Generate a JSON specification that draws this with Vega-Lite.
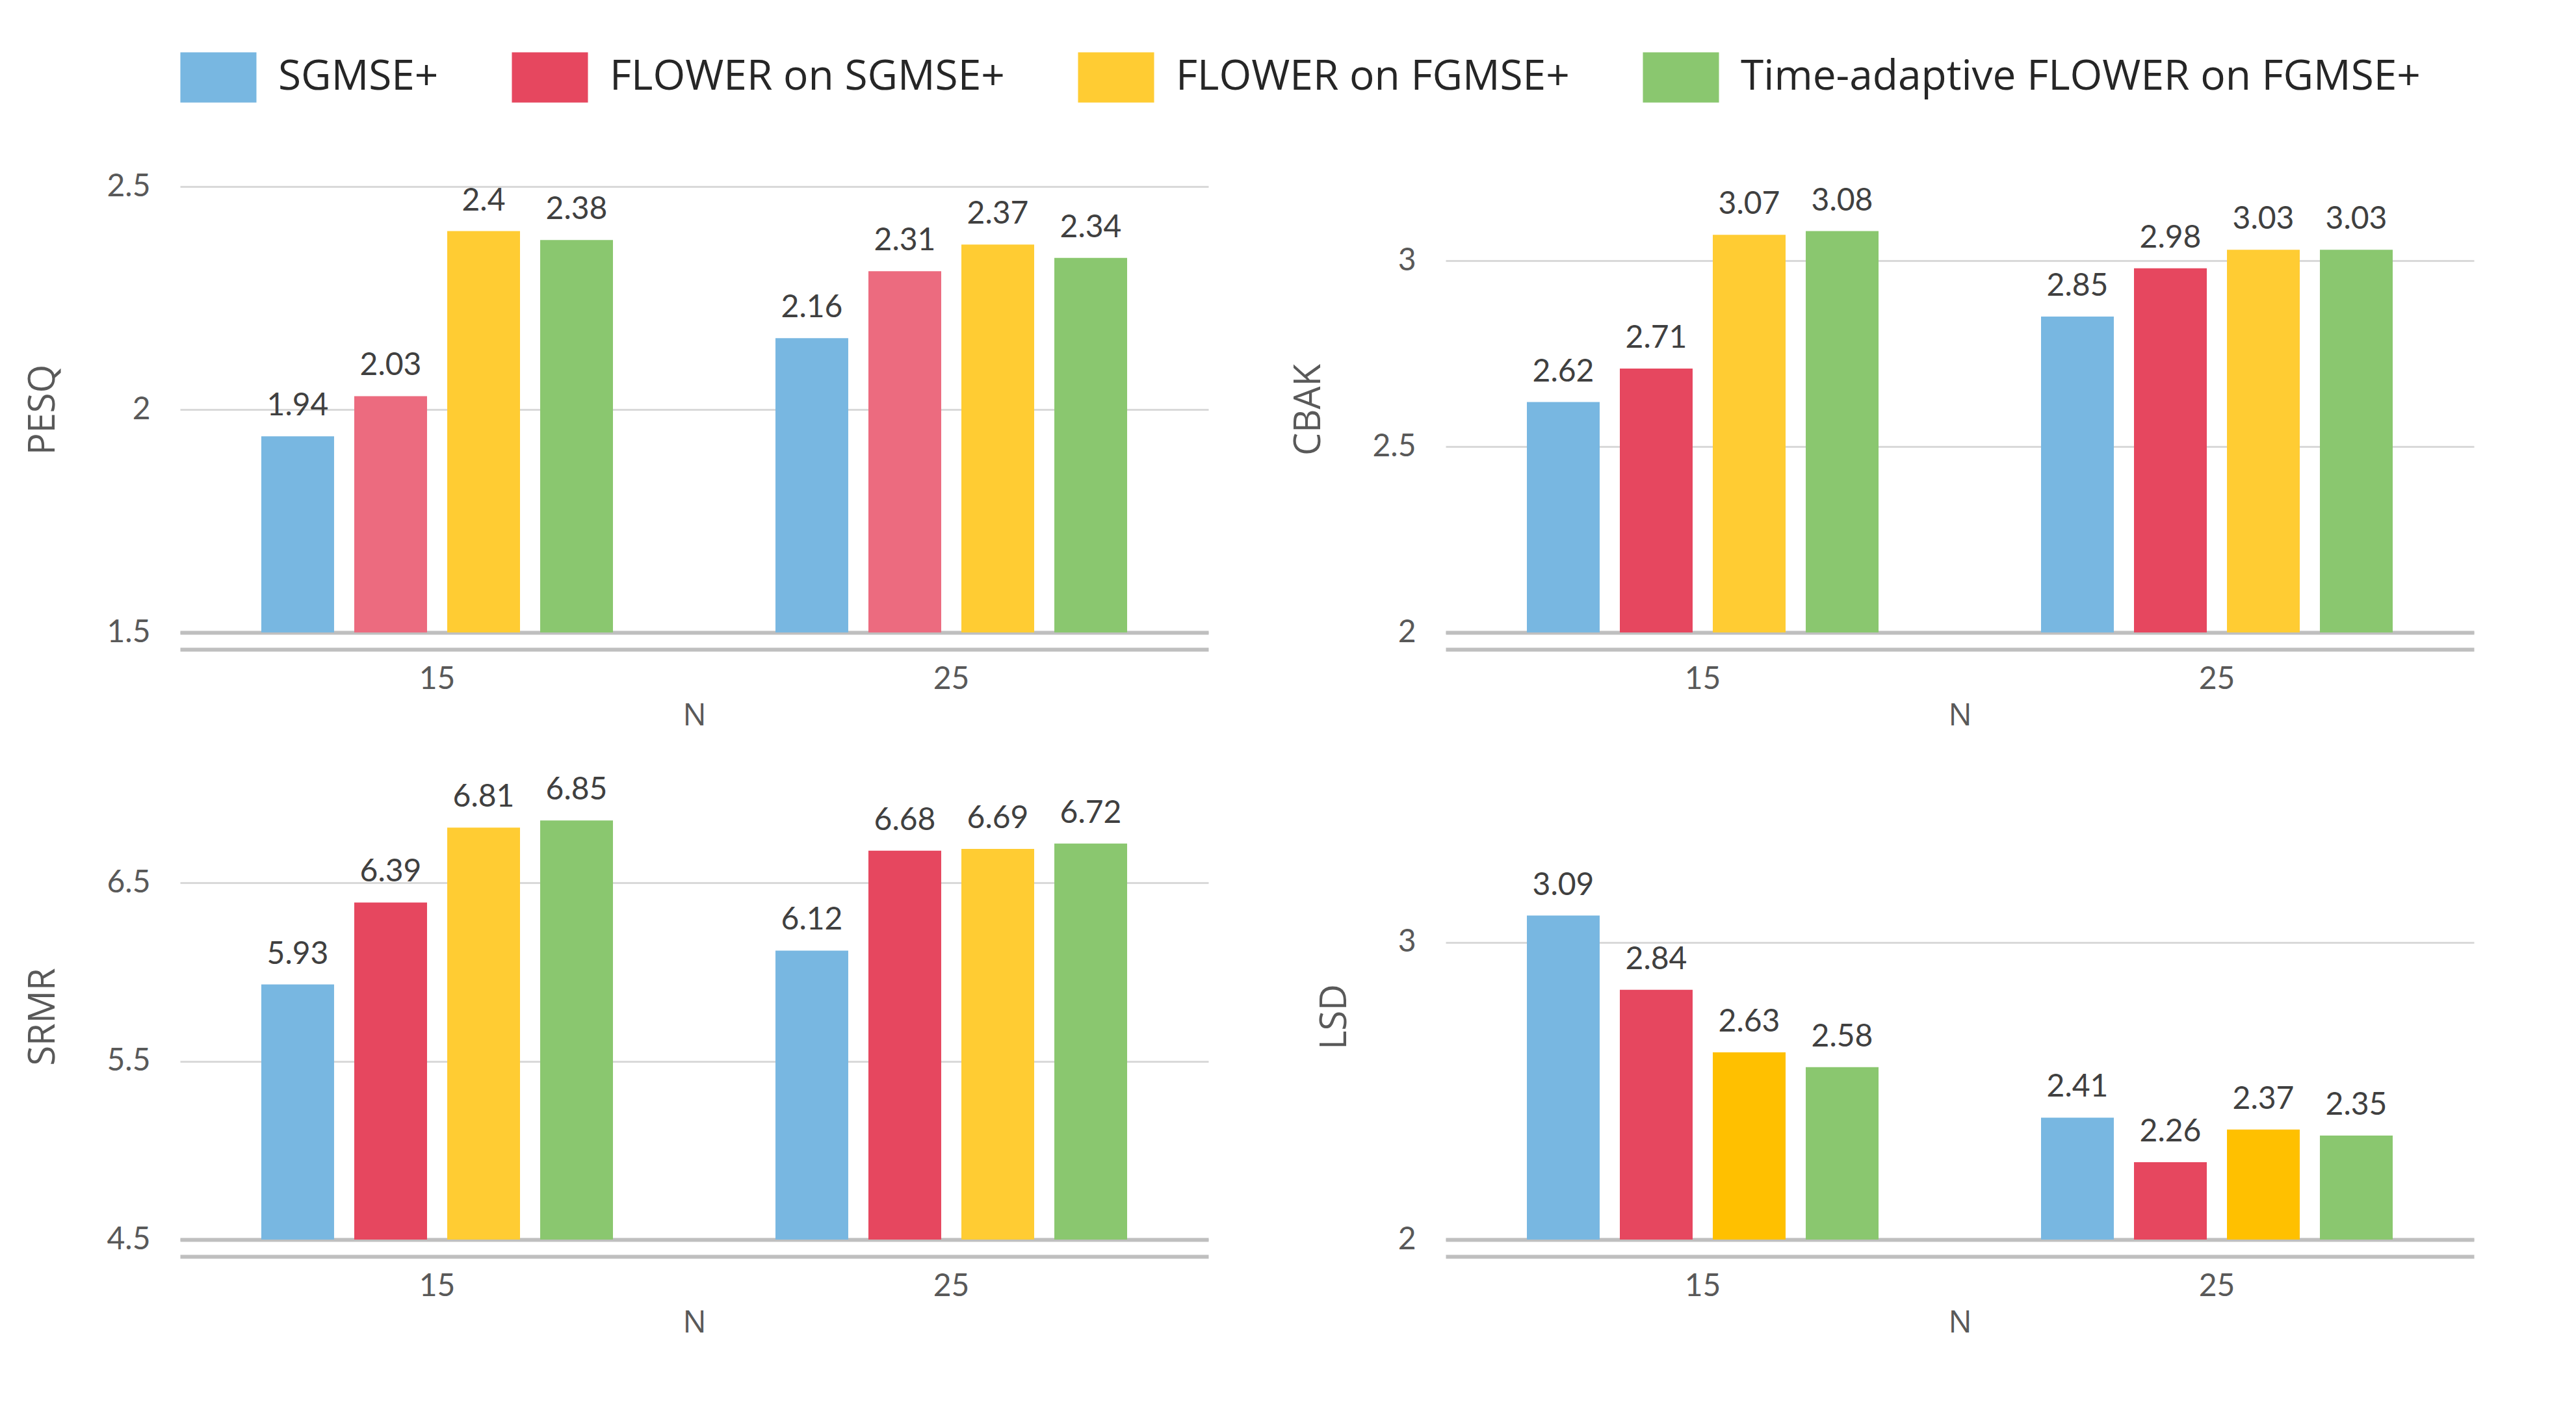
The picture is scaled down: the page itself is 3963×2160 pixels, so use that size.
{
  "$schema": "https://vega.github.io/schema/vega-lite/v6.json",
  "background": "white",
  "padding": {"left": 38, "top": 60, "right": 20, "bottom": 20},
  "bounds": "flush",
  "columns": 2,
  "spacing": {"row": 248, "column": 365},
  "datasets": {
    "scores": [
      {"metric": "PESQ", "N": "15", "method": "SGMSE+", "value": 1.94},
      {"metric": "PESQ", "N": "15", "method": "FLOWER on SGMSE+", "value": 2.03},
      {"metric": "PESQ", "N": "15", "method": "FLOWER on FGMSE+", "value": 2.4},
      {"metric": "PESQ", "N": "15", "method": "Time-adaptive FLOWER on FGMSE+", "value": 2.38},
      {"metric": "PESQ", "N": "25", "method": "SGMSE+", "value": 2.16},
      {"metric": "PESQ", "N": "25", "method": "FLOWER on SGMSE+", "value": 2.31},
      {"metric": "PESQ", "N": "25", "method": "FLOWER on FGMSE+", "value": 2.37},
      {"metric": "PESQ", "N": "25", "method": "Time-adaptive FLOWER on FGMSE+", "value": 2.34},
      {"metric": "CBAK", "N": "15", "method": "SGMSE+", "value": 2.62},
      {"metric": "CBAK", "N": "15", "method": "FLOWER on SGMSE+", "value": 2.71},
      {"metric": "CBAK", "N": "15", "method": "FLOWER on FGMSE+", "value": 3.07},
      {"metric": "CBAK", "N": "15", "method": "Time-adaptive FLOWER on FGMSE+", "value": 3.08},
      {"metric": "CBAK", "N": "25", "method": "SGMSE+", "value": 2.85},
      {"metric": "CBAK", "N": "25", "method": "FLOWER on SGMSE+", "value": 2.98},
      {"metric": "CBAK", "N": "25", "method": "FLOWER on FGMSE+", "value": 3.03},
      {"metric": "CBAK", "N": "25", "method": "Time-adaptive FLOWER on FGMSE+", "value": 3.03},
      {"metric": "SRMR", "N": "15", "method": "SGMSE+", "value": 5.93},
      {"metric": "SRMR", "N": "15", "method": "FLOWER on SGMSE+", "value": 6.39},
      {"metric": "SRMR", "N": "15", "method": "FLOWER on FGMSE+", "value": 6.81},
      {"metric": "SRMR", "N": "15", "method": "Time-adaptive FLOWER on FGMSE+", "value": 6.85},
      {"metric": "SRMR", "N": "25", "method": "SGMSE+", "value": 6.12},
      {"metric": "SRMR", "N": "25", "method": "FLOWER on SGMSE+", "value": 6.68},
      {"metric": "SRMR", "N": "25", "method": "FLOWER on FGMSE+", "value": 6.69},
      {"metric": "SRMR", "N": "25", "method": "Time-adaptive FLOWER on FGMSE+", "value": 6.72},
      {"metric": "LSD", "N": "15", "method": "SGMSE+", "value": 3.09},
      {"metric": "LSD", "N": "15", "method": "FLOWER on SGMSE+", "value": 2.84},
      {"metric": "LSD", "N": "15", "method": "FLOWER on FGMSE+", "value": 2.63},
      {"metric": "LSD", "N": "15", "method": "Time-adaptive FLOWER on FGMSE+", "value": 2.58},
      {"metric": "LSD", "N": "25", "method": "SGMSE+", "value": 2.41},
      {"metric": "LSD", "N": "25", "method": "FLOWER on SGMSE+", "value": 2.26},
      {"metric": "LSD", "N": "25", "method": "FLOWER on FGMSE+", "value": 2.37},
      {"metric": "LSD", "N": "25", "method": "Time-adaptive FLOWER on FGMSE+", "value": 2.35}
    ]
  },
  "data": {"name": "scores"},
  "config": {
    "view": {"stroke": null},
    "font": "Open Sans",
    "axis": {
      "labelFont": "Lato",
      "labelFontSize": 48,
      "labelColor": "#595959",
      "titleFont": "Open Sans",
      "titleFontWeight": "normal",
      "titleColor": "#595959",
      "ticks": false,
      "zindex": 1
    },
    "axisY": {
      "domain": false,
      "gridColor": "#000000",
      "gridOpacity": 0.15,
      "gridWidth": 3,
      "labelPadding": 46,
      "titleFontSize": 56,
      "titlePadding": 68
    },
    "axisX": {
      "grid": false,
      "domain": true,
      "domainColor": "#BFBFBF",
      "domainWidth": 6,
      "labelPadding": 48,
      "labelAngle": 0,
      "titleFontSize": 48,
      "titlePadding": 8
    },
    "legend": {
      "orient": "top",
      "direction": "horizontal",
      "labelFont": "Open Sans",
      "labelFontSize": 64,
      "labelColor": "#262626",
      "labelLimit": 2000,
      "symbolType": "M-1,-0.66H1V0.66H-1Z",
      "symbolSize": 13700,
      "symbolStrokeWidth": 0,
      "symbolOpacity": 1,
      "labelOffset": 33,
      "columnPadding": 112,
      "offset": 105
    }
  },
  "resolve": {"scale": {"y": "independent"}},
  "concat": [
    {
      "width": 1582,
      "height": 686,
      "transform": [{"filter": "datum.metric === 'PESQ'"}],
      "encoding": {
        "xOffset": {"field": "method", "type": "nominal", "sort": ["SGMSE+", "FLOWER on SGMSE+", "FLOWER on FGMSE+", "Time-adaptive FLOWER on FGMSE+"], "scale": {"paddingInner": 0.217, "paddingOuter": 0.874}},
        "y": {"field": "value", "type": "quantitative", "title": "PESQ", "scale": {"domain": [1.5, 2.5], "zero": false, "nice": false}, "axis": {"values": [1.5, 2, 2.5], "format": ".2~f"}}
      },
      "layer": [
        {
          "mark": {"type": "bar", "clip": true},
          "encoding": {
            "x": {"field": "N", "type": "nominal", "scale": {"paddingInner": 0, "paddingOuter": 0}, "axis": {"orient": "bottom", "offset": 26, "labels": false, "title": null}},
            "color": {"condition": {"test": "datum.method === 'FLOWER on SGMSE+'", "value": "#EC6B7F"}, "field": "method", "type": "nominal", "title": null, "sort": ["SGMSE+", "FLOWER on SGMSE+", "FLOWER on FGMSE+", "Time-adaptive FLOWER on FGMSE+"], "scale": {"domain": ["SGMSE+", "FLOWER on SGMSE+", "FLOWER on FGMSE+", "Time-adaptive FLOWER on FGMSE+"], "range": ["#78B7E1", "#E6475F", "#FFCC33", "#8AC76F"]}}
          }
        },
        {
          "mark": {"type": "text", "baseline": "bottom", "dy": -22, "font": "Lato", "fontSize": 48, "color": "#404040"},
          "encoding": {
            "x": {"field": "N", "type": "nominal", "title": "N", "axis": {"orient": "bottom"}},
            "text": {"field": "value", "type": "quantitative", "format": ".2~f"}
          }
        }
      ],
      "resolve": {"axis": {"x": "independent"}}
    },
    {
      "width": 1582,
      "height": 686,
      "transform": [{"filter": "datum.metric === 'CBAK'"}],
      "encoding": {
        "xOffset": {"field": "method", "type": "nominal", "sort": ["SGMSE+", "FLOWER on SGMSE+", "FLOWER on FGMSE+", "Time-adaptive FLOWER on FGMSE+"], "scale": {"paddingInner": 0.217, "paddingOuter": 0.874}},
        "y": {"field": "value", "type": "quantitative", "title": "CBAK", "scale": {"domain": [2, 3.2], "zero": false, "nice": false}, "axis": {"values": [2, 2.5, 3], "format": ".2~f"}}
      },
      "layer": [
        {
          "mark": {"type": "bar", "clip": true},
          "encoding": {
            "x": {"field": "N", "type": "nominal", "scale": {"paddingInner": 0, "paddingOuter": 0}, "axis": {"orient": "bottom", "offset": 26, "labels": false, "title": null}},
            "color": {"field": "method", "type": "nominal", "title": null, "sort": ["SGMSE+", "FLOWER on SGMSE+", "FLOWER on FGMSE+", "Time-adaptive FLOWER on FGMSE+"], "scale": {"domain": ["SGMSE+", "FLOWER on SGMSE+", "FLOWER on FGMSE+", "Time-adaptive FLOWER on FGMSE+"], "range": ["#78B7E1", "#E6475F", "#FFCC33", "#8AC76F"]}}
          }
        },
        {
          "mark": {"type": "text", "baseline": "bottom", "dy": -22, "font": "Lato", "fontSize": 48, "color": "#404040"},
          "encoding": {
            "x": {"field": "N", "type": "nominal", "title": "N", "axis": {"orient": "bottom"}},
            "text": {"field": "value", "type": "quantitative", "format": ".2~f"}
          }
        }
      ],
      "resolve": {"axis": {"x": "independent"}}
    },
    {
      "width": 1582,
      "height": 686,
      "transform": [{"filter": "datum.metric === 'SRMR'"}],
      "encoding": {
        "xOffset": {"field": "method", "type": "nominal", "sort": ["SGMSE+", "FLOWER on SGMSE+", "FLOWER on FGMSE+", "Time-adaptive FLOWER on FGMSE+"], "scale": {"paddingInner": 0.217, "paddingOuter": 0.874}},
        "y": {"field": "value", "type": "quantitative", "title": "SRMR", "scale": {"domain": [4.5, 7.0], "zero": false, "nice": false}, "axis": {"values": [4.5, 5.5, 6.5], "format": ".2~f"}}
      },
      "layer": [
        {
          "mark": {"type": "bar", "clip": true},
          "encoding": {
            "x": {"field": "N", "type": "nominal", "scale": {"paddingInner": 0, "paddingOuter": 0}, "axis": {"orient": "bottom", "offset": 26, "labels": false, "title": null}},
            "color": {"field": "method", "type": "nominal", "title": null, "sort": ["SGMSE+", "FLOWER on SGMSE+", "FLOWER on FGMSE+", "Time-adaptive FLOWER on FGMSE+"], "scale": {"domain": ["SGMSE+", "FLOWER on SGMSE+", "FLOWER on FGMSE+", "Time-adaptive FLOWER on FGMSE+"], "range": ["#78B7E1", "#E6475F", "#FFCC33", "#8AC76F"]}}
          }
        },
        {
          "mark": {"type": "text", "baseline": "bottom", "dy": -22, "font": "Lato", "fontSize": 48, "color": "#404040"},
          "encoding": {
            "x": {"field": "N", "type": "nominal", "title": "N", "axis": {"orient": "bottom"}},
            "text": {"field": "value", "type": "quantitative", "format": ".2~f"}
          }
        }
      ],
      "resolve": {"axis": {"x": "independent"}}
    },
    {
      "width": 1582,
      "height": 686,
      "transform": [{"filter": "datum.metric === 'LSD'"}],
      "encoding": {
        "xOffset": {"field": "method", "type": "nominal", "sort": ["SGMSE+", "FLOWER on SGMSE+", "FLOWER on FGMSE+", "Time-adaptive FLOWER on FGMSE+"], "scale": {"paddingInner": 0.217, "paddingOuter": 0.874}},
        "y": {"field": "value", "type": "quantitative", "title": "LSD", "scale": {"domain": [2, 3.5], "zero": false, "nice": false}, "axis": {"values": [2, 3], "format": ".2~f"}}
      },
      "layer": [
        {
          "mark": {"type": "bar", "clip": true},
          "encoding": {
            "x": {"field": "N", "type": "nominal", "scale": {"paddingInner": 0, "paddingOuter": 0}, "axis": {"orient": "bottom", "offset": 26, "labels": false, "title": null}},
            "color": {"condition": {"test": "datum.method === 'FLOWER on FGMSE+'", "value": "#FFC000"}, "field": "method", "type": "nominal", "title": null, "sort": ["SGMSE+", "FLOWER on SGMSE+", "FLOWER on FGMSE+", "Time-adaptive FLOWER on FGMSE+"], "scale": {"domain": ["SGMSE+", "FLOWER on SGMSE+", "FLOWER on FGMSE+", "Time-adaptive FLOWER on FGMSE+"], "range": ["#78B7E1", "#E6475F", "#FFCC33", "#8AC76F"]}}
          }
        },
        {
          "mark": {"type": "text", "baseline": "bottom", "dy": -22, "font": "Lato", "fontSize": 48, "color": "#404040"},
          "encoding": {
            "x": {"field": "N", "type": "nominal", "title": "N", "axis": {"orient": "bottom"}},
            "text": {"field": "value", "type": "quantitative", "format": ".2~f"}
          }
        }
      ],
      "resolve": {"axis": {"x": "independent"}}
    }
  ]
}
